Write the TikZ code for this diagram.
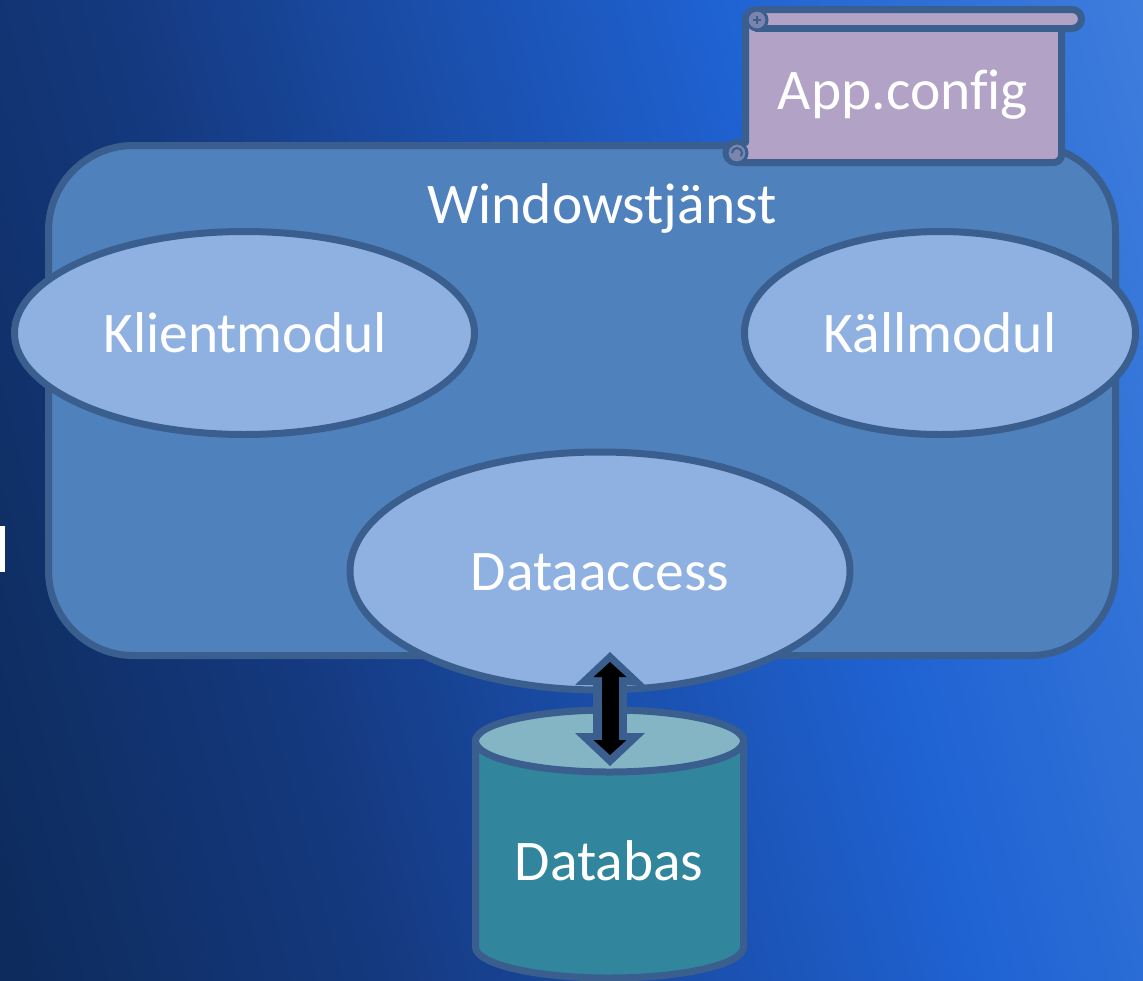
\documentclass[tikz,border=0pt]{standalone}
\usepackage{fontspec}
\setmainfont{Carlito}
\usetikzlibrary{shapes.geometric,arrows.meta}
\definecolor{cline}{HTML}{3A5F8E}
\definecolor{cpanel}{HTML}{4F81BD}
\definecolor{cell}{HTML}{8EB1E2}
\definecolor{cscroll}{HTML}{B1A2C6}
\definecolor{cdb}{HTML}{31859C}
\definecolor{cdbtop}{HTML}{83B5C4}
\definecolor{s0}{HTML}{0B2550}
\definecolor{s1}{HTML}{0D2B5C}
\definecolor{s2}{HTML}{15397F}
\definecolor{s3}{HTML}{1A4EAA}
\definecolor{s4}{HTML}{1F62D2}
\definecolor{s5}{HTML}{407FDD}
\pgfdeclarehorizontalshading{bgsh}{100bp}{
 color(0bp)=(s0);
 color(20bp)=(s1);
 color(36bp)=(s2);
 color(49bp)=(s3);
 color(62bp)=(s4);
 color(82bp)=(s5);
 color(100bp)=(s5)}
\tikzset{
 x=1pt,y=-1pt,
 outl/.style={draw=cline,line width=7pt},
 lbl/.style={text=white,font=\fontsize{57.5}{62}\selectfont,inner sep=0pt},
 oval/.style={ellipse,outl,fill=cell,inner sep=0pt,anchor=center},
 curl/.style={draw=cline,line width=3pt,fill=cscroll!55!cline}
}
\begin{document}
\begin{tikzpicture}
\useasboundingbox (0,0) rectangle (1143,980);
\shade[shading=bgsh,shading angle=15] (0,0) rectangle (1143,980);
\fill[white] (0,526) rectangle (5,572);
% service panel
\draw[outl,fill=cpanel,rounded corners=85pt] (48.5,145.5) rectangle (1115.5,655.5);
\node[lbl] (svc) at (602,208.5) {Windowstjänst};
% database
\path[outl,fill=cdb] (475.5,741) -- (475.5,947) arc[start angle=180,end angle=0,x radius=134,y radius=31] -- (743.5,741) -- cycle;
\draw[outl,fill=cdbtop] (609.5,741) ellipse[x radius=134,y radius=31];
\node[lbl] (db) at (609,861) {Databas};
% ellipses
\node[oval,minimum width=460pt,minimum height=203pt] (klient) at (244.5,333) {};
\node[lbl] (klienttxt) at (245,333) {Klientmodul};
\node[oval,minimum width=391pt,minimum height=203pt] (kall) at (940,333) {};
\node[lbl] (kalltxt) at (940,333) {Källmodul};
\node[oval,minimum width=500pt,minimum height=238pt] (da) at (600,571) {};
\node[lbl] (datxt) at (600,572) {Dataaccess};
% scroll
\path[outl,fill=cscroll,line join=round] (745.5,20) arc[start angle=180,end angle=270,radius=10.5] -- (1072,9.5) arc[start angle=270,end angle=450,radius=9.5] -- (1061.5,28.5) -- (1061.5,155) arc[start angle=0,end angle=90,radius=7.5] -- (736,162.5) arc[start angle=90,end angle=270,radius=10] -- (745.5,142.5) -- cycle;
\draw[cline,line width=7pt] (755,28.5) -- (1061.5,28.5);
\draw[curl] (757,20) circle[radius=10];
\draw[cline,line width=2pt] (753,20) -- (761,20) (757,16) -- (757,24);
\draw[curl] (737,153) circle[radius=10];
\draw[cline,line width=2pt] (732,153) arc[start angle=180,end angle=400,radius=5];
\node[lbl] (cfg) at (903,95) {App.conf\kern0pt ig};
% connector
\coordinate (atop) at (610,652);
\coordinate (abot) at (610,766);
\draw[cline,line width=34pt,{Triangle[length=33pt,width=70pt,line width=0pt]}-{Triangle[length=33pt,width=70pt,line width=0pt]}] (atop) -- (abot);
\coordinate (itop) at (610,662);
\coordinate (ibot) at (610,755);
\draw[black,line width=17pt,{Triangle[length=15pt,width=33pt,line width=0pt]}-{Triangle[length=15pt,width=33pt,line width=0pt]}] (itop) -- (ibot);
\end{tikzpicture}
\end{document}
